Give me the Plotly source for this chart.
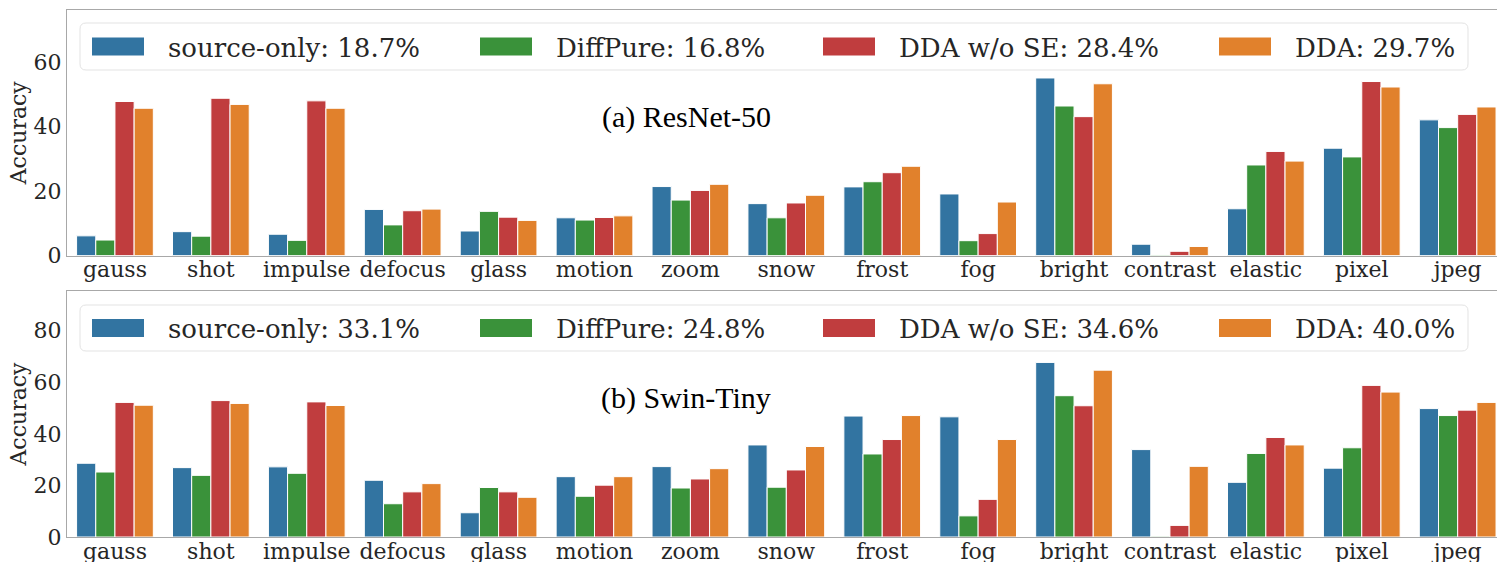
import plotly.graph_objects as go

# ---------------- data ----------------
categories = ["gauss", "shot", "impulse", "defocus", "glass", "motion", "zoom", "snow",
              "frost", "fog", "bright", "contrast", "elastic", "pixel", "jpeg"]
methods = ["source-only", "DiffPure", "DDA w/o SE", "DDA"]

resnet_source_only = [6.1, 7.4, 6.6, 14.3, 7.6, 11.7, 21.4, 16.1, 21.3, 19.1, 55.1, 3.5, 14.5, 33.3, 42.1]
resnet_diffpure = [4.8, 6.0, 4.7, 9.5, 13.7, 11.0, 17.2, 11.7, 22.9, 4.6, 46.4, 0.3, 28.1, 30.6, 39.7]
resnet_dda_wo_se = [47.8, 48.8, 48.0, 13.9, 11.9, 11.8, 20.2, 16.3, 25.7, 6.8, 43.1, 1.3, 32.3, 54.0, 43.8]
resnet_dda = [45.7, 46.9, 45.7, 14.4, 10.9, 12.3, 22.1, 18.7, 27.7, 16.6, 53.3, 2.8, 29.3, 52.3, 46.1]
resnet_means = [18.7, 16.8, 28.4, 29.7]

swin_source_only = [28.6, 26.9, 27.2, 22.0, 9.4, 23.4, 27.3, 35.7, 46.9, 46.6, 67.7, 33.9, 21.2, 26.7, 49.8]
swin_diffpure = [25.2, 23.9, 24.7, 12.9, 19.2, 15.8, 19.0, 19.3, 32.2, 8.2, 54.8, 0.3, 32.4, 34.6, 47.1]
swin_dda_wo_se = [52.2, 52.9, 52.4, 17.5, 17.5, 20.1, 22.5, 26.0, 37.8, 14.6, 50.9, 4.5, 38.6, 58.8, 49.2]
swin_dda = [51.1, 51.8, 51.0, 20.7, 15.4, 23.4, 26.5, 35.1, 47.1, 37.8, 64.7, 27.4, 35.7, 56.2, 52.2]
swin_means = [33.1, 24.8, 34.6, 40.0]

panel_titles = ["(a) ResNet-50", "(b) Swin-Tiny"]

# ---------------- style / layout ----------------
colors = ["#3274a1", "#3a923a", "#c03d3e", "#e1812c"]
W, H = 1497, 562
ML, MR, MT, MB = 67, 0, 10, 25
PW, PH = W - ML - MR, H - MT - MB
TXT = "#262626"
SPINE = "#a8a8a8"
FONT = "DejaVu Serif"


def fx(p):
    return (p - ML) / PW


def fy(p):
    return (H - MB - p) / PH


panels = [
    dict(series=[resnet_source_only, resnet_diffpure, resnet_dda_wo_se, resnet_dda],
         means=resnet_means, title=panel_titles[0], xa="x", ya="y",
         dom=[fy(255.5), 1.0], yr=[0, 76.2], ticks=[0, 20, 40, 60],
         leg_top=23, leg_bot=70, title_y=117),
    dict(series=[swin_source_only, swin_diffpure, swin_dda_wo_se, swin_dda],
         means=swin_means, title=panel_titles[1], xa="x2", ya="y2",
         dom=[0.0, fy(291)], yr=[0, 95.4], ticks=[0, 20, 40, 60, 80],
         leg_top=305, leg_bot=351, title_y=398),
]

fig = go.Figure()
shapes, annotations = [], []

swatch_x = [92, 480, 823, 1219]
for pi, p in enumerate(panels):
    for mi, (name, vals) in enumerate(zip(methods, p["series"])):
        fig.add_trace(go.Bar(
            x=categories, y=vals, name=name, xaxis=p["xa"], yaxis=p["ya"],
            marker=dict(color=colors[mi], line=dict(color="white", width=1)),
            showlegend=False, offsetgroup=str(mi),
        ))

    # legend frame (rounded)
    x0, x1 = fx(80), fx(1468)
    y0, y1 = fy(p["leg_bot"]), fy(p["leg_top"])
    rx, ry = 6 / PW, 6 / PH
    path = (f"M{x0+rx},{y0} L{x1-rx},{y0} Q{x1},{y0} {x1},{y0+ry} "
            f"L{x1},{y1-ry} Q{x1},{y1} {x1-rx},{y1} L{x0+rx},{y1} "
            f"Q{x0},{y1} {x0},{y1-ry} L{x0},{y0+ry} Q{x0},{y0} {x0+rx},{y0} Z")
    shapes.append(dict(type="path", path=path, xref="paper", yref="paper",
                       fillcolor="rgba(255,255,255,0.85)", line=dict(color="#e3e3e3", width=1)))
    cy = (p["leg_top"] + p["leg_bot"]) / 2
    for mi, name in enumerate(methods):
        sx = swatch_x[mi]
        shapes.append(dict(type="rect", xref="paper", yref="paper",
                           x0=fx(sx), x1=fx(sx + 52), y0=fy(cy + 9), y1=fy(cy - 9),
                           fillcolor=colors[mi], line=dict(width=0)))
        annotations.append(dict(text=f"{name}: {p['means'][mi]:.1f}%", xref="paper", yref="paper",
                                x=fx(sx + 74), y=fy(cy + 1), xanchor="left", yanchor="middle",
                                showarrow=False, font=dict(family=FONT, size=26, color=TXT)))
    annotations.append(dict(text=p["title"], xref="paper", yref="paper",
                            x=fx(686), y=fy(p["title_y"]), xanchor="center", yanchor="middle",
                            showarrow=False, font=dict(family="Liberation Serif", size=30, color="black")))

axis_common = dict(showgrid=False, zeroline=False, showline=True, linecolor=SPINE, linewidth=1.2,
                   mirror=True, ticks="", automargin=False,
                   tickfont=dict(family=FONT, size=22, color=TXT))

layout = dict(
    width=W, height=H, margin=dict(l=ML, r=MR, t=MT, b=MB),
    paper_bgcolor="white", plot_bgcolor="white",
    barmode="group", bargap=0.2, bargroupgap=0,
    shapes=shapes, annotations=annotations, showlegend=False,
)
for pi, p in enumerate(panels):
    xk = "xaxis" if pi == 0 else "xaxis2"
    yk = "yaxis" if pi == 0 else "yaxis2"
    layout[xk] = dict(axis_common, type="category", range=[-0.5, 14.41],
                      anchor=p["ya"], domain=[0, 1], ticklabelstandoff=-6)
    layout[yk] = dict(axis_common, range=p["yr"], tickvals=p["ticks"], domain=p["dom"],
                      anchor=p["xa"],
                      title=dict(text="Accuracy", standoff=0,
                                 font=dict(family=FONT, size=22, color=TXT)))
fig.update_layout(**layout)

fig.write_html("out.html", config={"displayModeBar": False},
               post_script="document.body.style.margin='0';")
